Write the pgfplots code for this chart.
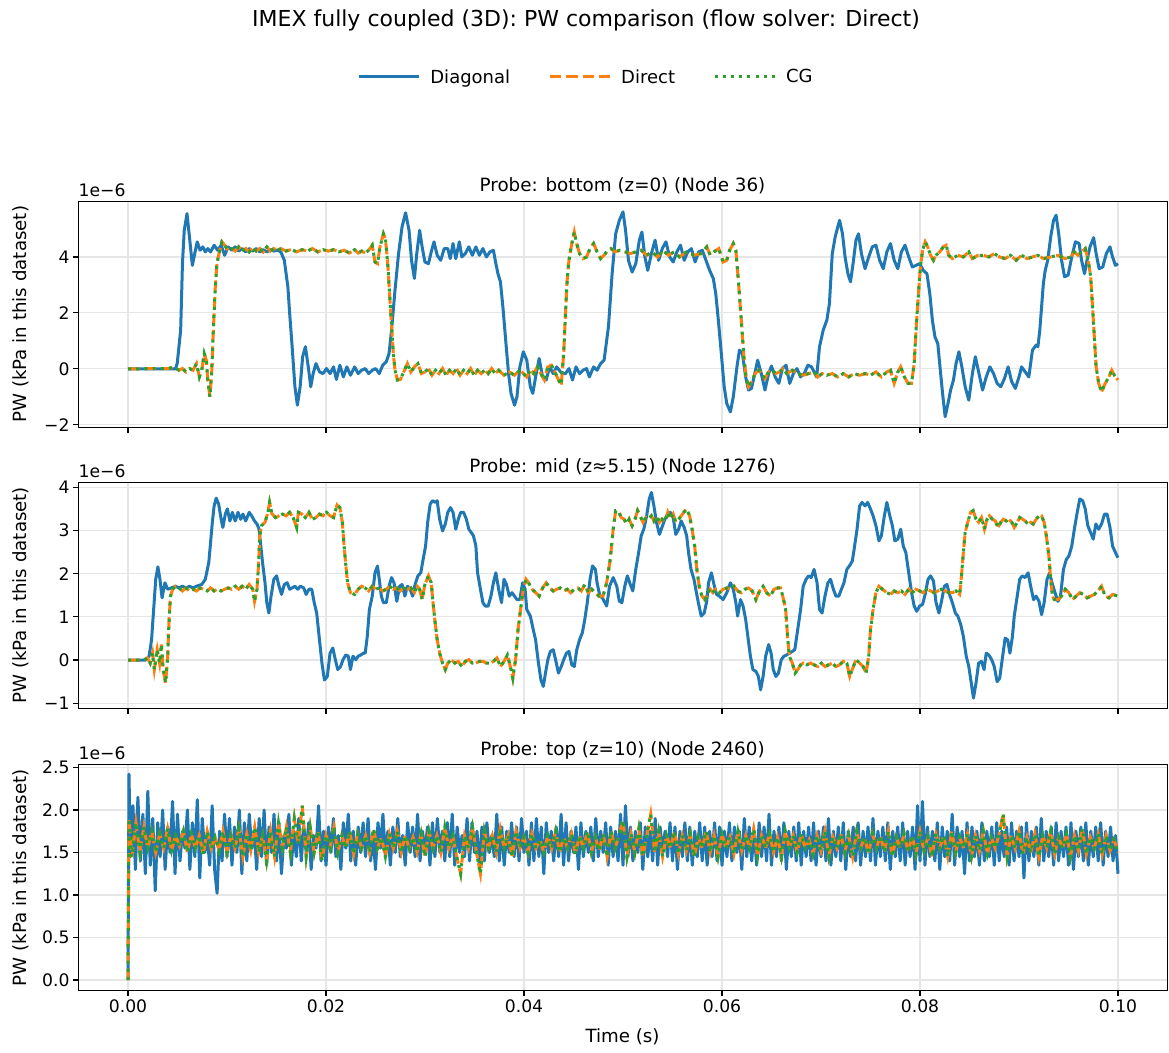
\documentclass[border=0pt]{standalone}
\usepackage{fontspec}
\setmainfont{DejaVu Sans}
\usepackage{pgfplots}
\pgfplotsset{compat=1.18}
\usepackage{pgfplotstable}
\definecolor{mblue}{HTML}{1F77B4}
\definecolor{morange}{HTML}{FF7F0E}
\definecolor{mgreen}{HTML}{2CA02C}
\definecolor{gridc}{HTML}{E6E6E6}

% ---------- Panel 1: bottom (z=0), values in 1e-6 ----------
\pgfplotstableread[row sep=\\]{
t p\\
0 0\\ 0.00479 0\\ 0.00497 0.19\\ 0.00532 1.38\\ 0.00550 3.76\\ 0.00568 4.95\\ 0.00596 5.55\\ 0.00621 4.71\\ 0.00650 3.70\\ 0.00674 4.12\\
0.00699 4.54\\ 0.00728 4.24\\ 0.00756 4.36\\ 0.00781 4.18\\ 0.00806 4.30\\ 0.00834 4.18\\ 0.00870 4.42\\ 0.00905 4.24\\ 0.00941 4.42\\ 0.00976 4.06\\
0.01012 4.36\\ 0.01047 4.24\\ 0.01083 4.36\\ 0.01118 4.21\\ 0.01153 4.30\\ 0.01189 4.18\\ 0.01224 4.30\\ 0.01260 4.21\\ 0.01295 4.30\\ 0.01331 4.18\\
0.01366 4.26\\ 0.01402 4.18\\ 0.01437 4.26\\ 0.01473 4.21\\ 0.01508 4.24\\ 0.01544 4.18\\ 0.01579 3.88\\ 0.01615 2.93\\ 0.01633 1.98\\ 0.01658 0.79\\
0.01686 -0.64\\ 0.01711 -1.30\\ 0.01739 -0.64\\ 0.01764 0.43\\ 0.01792 0.79\\ 0.01821 0.07\\ 0.01846 -0.64\\ 0.01870 -0.17\\ 0.01899 0.19\\ 0.01935 -0.11\\
0.01970 -0.17\\ 0.02005 0.01\\ 0.02041 -0.17\\ 0.02076 0.07\\ 0.02105 -0.38\\ 0.02140 0.13\\ 0.02176 -0.29\\ 0.02211 0.07\\ 0.02247 -0.23\\ 0.02289 0.07\\
0.02325 -0.17\\ 0.02360 -0.05\\ 0.02396 0.01\\ 0.02431 -0.17\\ 0.02467 -0.05\\ 0.02502 0.01\\ 0.02538 -0.17\\ 0.02573 0.13\\ 0.02609 0.25\\ 0.02637 0.55\\
0.02662 1.38\\ 0.02697 2.81\\ 0.02733 4.12\\ 0.02768 5.07\\ 0.02804 5.58\\ 0.02839 4.95\\ 0.02864 3.88\\ 0.02893 3.23\\ 0.02917 4.12\\ 0.02946 4.95\\
0.02971 4.36\\ 0.02999 3.82\\ 0.03035 3.76\\ 0.03063 4.18\\ 0.03091 4.54\\ 0.03123 4.06\\ 0.03159 3.88\\ 0.03194 4.30\\ 0.03230 4.30\\ 0.03255 3.94\\
0.03283 4.48\\ 0.03311 3.94\\ 0.03347 4.54\\ 0.03372 4.00\\ 0.03407 4.12\\ 0.03443 4.36\\ 0.03478 4.06\\ 0.03514 4.36\\ 0.03549 4.06\\ 0.03585 4.30\\
0.03620 4.00\\ 0.03656 4.18\\ 0.03691 4.24\\ 0.03716 3.76\\ 0.03737 3.40\\ 0.03762 3.11\\ 0.03787 2.21\\ 0.03815 1.02\\ 0.03844 -0.17\\ 0.03869 -0.88\\
0.03904 -1.30\\ 0.03929 -1.00\\ 0.03958 0.07\\ 0.03993 0.61\\ 0.04028 0.31\\ 0.04064 -0.64\\ 0.04089 -0.88\\ 0.04117 -0.29\\ 0.04153 0.37\\ 0.04188 -0.29\\
0.04224 -0.40\\ 0.04259 0.07\\ 0.04295 -0.17\\ 0.04330 0.07\\ 0.04383 -0.17\\ 0.04419 -0.17\\ 0.04454 0.01\\ 0.04490 -0.40\\ 0.04525 0.07\\ 0.04561 -0.17\\
0.04596 -0.05\\ 0.04632 0.01\\ 0.04660 -0.29\\ 0.04703 0.07\\ 0.04738 -0.05\\ 0.04774 0.19\\ 0.04809 0.31\\ 0.04853 1.50\\ 0.04890 3.40\\ 0.04926 4.83\\
0.04963 5.31\\ 0.05000 5.61\\ 0.05026 4.95\\ 0.05055 3.88\\ 0.05092 3.46\\ 0.05129 3.76\\ 0.05165 4.60\\ 0.05191 4.89\\ 0.05221 4.00\\ 0.05250 3.52\\
0.05287 4.12\\ 0.05324 4.60\\ 0.05360 3.88\\ 0.05397 4.30\\ 0.05434 4.54\\ 0.05471 4.00\\ 0.05507 3.82\\ 0.05544 4.18\\ 0.05581 4.42\\ 0.05618 3.88\\
0.05654 4.18\\ 0.05691 4.30\\ 0.05728 3.82\\ 0.05765 4.18\\ 0.05801 4.24\\ 0.05838 3.88\\ 0.05875 3.52\\ 0.05912 3.23\\ 0.05937 2.69\\ 0.05963 1.74\\
0.05993 0.55\\ 0.06022 -0.64\\ 0.06048 -1.24\\ 0.06085 -1.54\\ 0.06114 -1.00\\ 0.06151 0.07\\ 0.06176 0.67\\ 0.06206 0.55\\ 0.06239 -0.29\\ 0.06268 -0.76\\
0.06298 -0.70\\ 0.06331 -0.17\\ 0.06360 0.31\\ 0.06397 -0.17\\ 0.06434 -0.76\\ 0.06471 -0.17\\ 0.06500 0.10\\ 0.06537 -0.29\\ 0.06574 -0.52\\ 0.06610 0.01\\
0.06647 0.13\\ 0.06684 -0.52\\ 0.06721 -0.17\\ 0.06757 0.01\\ 0.06794 -0.29\\ 0.06831 -0.17\\ 0.06868 0.13\\ 0.06904 0.07\\ 0.06930 -0.11\\ 0.06956 -0.29\\
0.06985 0.79\\ 0.07022 1.38\\ 0.07059 1.74\\ 0.07085 2.33\\ 0.07114 4.12\\ 0.07143 4.71\\ 0.07169 5.07\\ 0.07188 5.31\\ 0.07217 4.83\\ 0.07243 4.00\\
0.07272 3.40\\ 0.07298 3.11\\ 0.07324 3.76\\ 0.07353 4.60\\ 0.07379 4.83\\ 0.07408 4.12\\ 0.07445 3.58\\ 0.07482 4.00\\ 0.07518 4.36\\ 0.07555 4.42\\
0.07592 3.88\\ 0.07629 3.58\\ 0.07665 4.18\\ 0.07702 4.48\\ 0.07739 3.88\\ 0.07776 3.58\\ 0.07812 4.18\\ 0.07849 4.42\\ 0.07886 4.00\\ 0.07923 3.64\\
0.07960 3.70\\ 0.07996 3.76\\ 0.08033 3.52\\ 0.08070 3.40\\ 0.08099 2.69\\ 0.08125 1.74\\ 0.08151 1.14\\ 0.08180 0.90\\ 0.08202 0.07\\ 0.08228 -0.88\\
0.08254 -1.71\\ 0.08283 -1.24\\ 0.08309 -0.76\\ 0.08338 -0.40\\ 0.08364 0.19\\ 0.08393 0.61\\ 0.08423 0.07\\ 0.08456 -0.64\\ 0.08493 -1.12\\ 0.08529 -0.17\\
0.08559 0.43\\ 0.08596 -0.17\\ 0.08632 -0.76\\ 0.08669 -0.29\\ 0.08706 0.07\\ 0.08743 -0.17\\ 0.08779 -0.52\\ 0.08816 -0.64\\ 0.08853 -0.35\\ 0.08890 0.07\\
0.08926 -0.46\\ 0.08963 -0.70\\ 0.09000 -0.29\\ 0.09026 0.07\\ 0.09063 -0.11\\ 0.09099 -0.29\\ 0.09136 0.67\\ 0.09173 0.85\\ 0.09191 0.79\\ 0.09210 1.38\\
0.09228 2.21\\ 0.09246 3.05\\ 0.09265 3.52\\ 0.09290 3.88\\ 0.09320 4.71\\ 0.09349 5.31\\ 0.09375 5.49\\ 0.09401 4.83\\ 0.09430 3.88\\ 0.09460 3.29\\
0.09496 3.35\\ 0.09533 4.00\\ 0.09570 4.54\\ 0.09607 4.48\\ 0.09632 3.88\\ 0.09662 3.40\\ 0.09687 3.88\\ 0.09717 4.36\\ 0.09754 4.69\\ 0.09779 4.12\\
0.09809 3.58\\ 0.09846 3.64\\ 0.09882 4.12\\ 0.09919 4.36\\ 0.09945 4.00\\ 0.09974 3.70\\ 0.10000 3.76\\
}\botDiag

\pgfplotstableread[row sep=\\]{
t p\\
0 0\\ 0.00408 0.01\\ 0.00461 0.07\\ 0.00515 -0.05\\ 0.00550 0.01\\ 0.00586 -0.11\\ 0.00621 0.01\\ 0.00657 -0.05\\ 0.00692 0.19\\ 0.00721 -0.29\\
0.00745 -0.05\\ 0.00770 0.55\\ 0.00791 0.31\\ 0.00806 -0.40\\ 0.00827 -1.00\\ 0.00845 -0.17\\ 0.00862 1.38\\ 0.00880 2.81\\ 0.00898 3.76\\ 0.00923 4.18\\
0.00948 4.54\\ 0.00976 4.42\\ 0.01012 4.24\\ 0.01047 4.30\\ 0.01083 4.21\\ 0.01118 4.36\\ 0.01153 4.21\\ 0.01189 4.30\\ 0.01224 4.18\\ 0.01260 4.33\\
0.01295 4.21\\ 0.01331 4.30\\ 0.01366 4.18\\ 0.01402 4.36\\ 0.01437 4.21\\ 0.01473 4.30\\ 0.01508 4.24\\ 0.01544 4.30\\ 0.01597 4.21\\ 0.01650 4.27\\
0.01704 4.18\\ 0.01757 4.26\\ 0.01810 4.21\\ 0.01863 4.30\\ 0.01917 4.18\\ 0.01970 4.26\\ 0.02023 4.21\\ 0.02076 4.26\\ 0.02130 4.18\\ 0.02183 4.24\\
0.02236 4.14\\ 0.02289 4.26\\ 0.02325 4.14\\ 0.02360 4.21\\ 0.02396 4.14\\ 0.02431 4.24\\ 0.02467 4.42\\ 0.02495 3.82\\ 0.02520 3.76\\ 0.02545 4.36\\
0.02580 4.83\\ 0.02601 4.65\\ 0.02626 3.64\\ 0.02644 2.57\\ 0.02665 1.38\\ 0.02680 0.55\\ 0.02697 -0.05\\ 0.02722 -0.40\\ 0.02751 -0.38\\ 0.02786 -0.11\\
0.02822 0.19\\ 0.02857 -0.11\\ 0.02893 0.07\\ 0.02928 0.19\\ 0.02964 -0.17\\ 0.02999 -0.11\\ 0.03035 0.01\\ 0.03070 -0.23\\ 0.03106 -0.05\\ 0.03141 -0.17\\
0.03177 0.01\\ 0.03212 -0.23\\ 0.03248 -0.05\\ 0.03283 -0.17\\ 0.03319 0.01\\ 0.03354 -0.23\\ 0.03390 -0.05\\ 0.03425 -0.17\\ 0.03461 0.01\\ 0.03496 -0.23\\
0.03531 -0.05\\ 0.03567 -0.17\\ 0.03603 -0.05\\ 0.03638 -0.17\\ 0.03673 0.01\\ 0.03709 -0.17\\ 0.03744 -0.05\\ 0.03798 -0.23\\ 0.03851 -0.11\\ 0.03904 -0.23\\
0.03958 -0.05\\ 0.03993 -0.17\\ 0.04028 -0.29\\ 0.04064 -0.05\\ 0.04099 -0.17\\ 0.04135 0.07\\ 0.04170 -0.17\\ 0.04206 -0.40\\ 0.04241 0.07\\ 0.04277 0.13\\
0.04312 -0.11\\ 0.04348 -0.40\\ 0.04376 -0.58\\ 0.04401 0.55\\ 0.04419 1.98\\ 0.04436 3.17\\ 0.04454 3.88\\ 0.04483 4.48\\ 0.04508 4.89\\ 0.04532 4.48\\
0.04561 4.12\\ 0.04596 3.94\\ 0.04632 4.00\\ 0.04667 4.30\\ 0.04703 4.48\\ 0.04738 4.18\\ 0.04774 3.94\\ 0.04809 4.06\\ 0.04845 4.24\\ 0.04880 4.30\\
0.04916 4.18\\ 0.04969 4.24\\ 0.05074 4.12\\ 0.05129 4.18\\ 0.05184 4.24\\ 0.05239 4.06\\ 0.05294 4.18\\ 0.05349 4.00\\ 0.05404 4.24\\ 0.05460 4.06\\
0.05515 4.18\\ 0.05570 4.00\\ 0.05643 4.18\\ 0.05717 4.06\\ 0.05790 4.12\\ 0.05846 4.36\\ 0.05882 4.06\\ 0.05919 4.18\\ 0.05967 4.30\\ 0.06011 3.82\\
0.06048 3.88\\ 0.06077 4.24\\ 0.06114 4.48\\ 0.06140 4.24\\ 0.06165 3.17\\ 0.06195 1.74\\ 0.06221 0.43\\ 0.06243 -0.29\\ 0.06268 -0.64\\ 0.06298 -0.46\\
0.06335 -0.17\\ 0.06371 -0.05\\ 0.06397 -0.17\\ 0.06434 -0.35\\ 0.06471 -0.11\\ 0.06507 -0.05\\ 0.06544 -0.17\\ 0.06581 -0.11\\ 0.06618 0.01\\ 0.06654 -0.17\\
0.06710 -0.05\\ 0.06765 -0.17\\ 0.06820 -0.23\\ 0.06875 -0.17\\ 0.06930 -0.11\\ 0.06967 -0.29\\ 0.07011 -0.17\\ 0.07059 -0.23\\ 0.07114 -0.17\\ 0.07169 -0.29\\
0.07224 -0.17\\ 0.07279 -0.29\\ 0.07335 -0.17\\ 0.07390 -0.23\\ 0.07445 -0.17\\ 0.07500 -0.23\\ 0.07555 -0.11\\ 0.07610 -0.29\\ 0.07665 -0.11\\ 0.07702 -0.05\\
0.07739 -0.52\\ 0.07776 -0.11\\ 0.07805 0.07\\ 0.07842 -0.29\\ 0.07879 -0.52\\ 0.07915 -0.52\\ 0.07941 0.19\\ 0.07960 1.38\\ 0.07982 2.57\\ 0.08004 3.64\\
0.08026 4.24\\ 0.08052 4.54\\ 0.08077 4.36\\ 0.08107 4.06\\ 0.08136 3.88\\ 0.08162 4.06\\ 0.08199 4.18\\ 0.08235 4.36\\ 0.08265 4.42\\ 0.08290 4.06\\
0.08327 3.94\\ 0.08382 4.06\\ 0.08438 4.00\\ 0.08493 4.18\\ 0.08529 3.94\\ 0.08585 4.06\\ 0.08640 4.06\\ 0.08695 4.00\\ 0.08750 4.12\\ 0.08805 4.00\\
0.08860 3.94\\ 0.08915 4.06\\ 0.08971 3.88\\ 0.09026 4.06\\ 0.09081 3.94\\ 0.09136 4.00\\ 0.09191 4.06\\ 0.09246 3.94\\ 0.09320 4.00\\ 0.09393 4.06\\
0.09467 3.94\\ 0.09522 4.00\\ 0.09559 4.18\\ 0.09596 4.06\\ 0.09632 4.18\\ 0.09669 4.30\\ 0.09699 3.88\\ 0.09724 3.29\\ 0.09743 2.21\\ 0.09761 1.14\\
0.09779 0.07\\ 0.09805 -0.52\\ 0.09834 -0.82\\ 0.09871 -0.52\\ 0.09908 -0.29\\ 0.09937 -0.05\\ 0.09963 -0.23\\ 0.10000 -0.40\\
}\botDir

% ---------- Panel 2: mid ----------
\pgfplotstableread[row sep=\\]{
t p\\
0 0\\ 0.00178 0\\ 0.00213 0.09\\ 0.00238 0.47\\ 0.00259 1.17\\ 0.00280 1.87\\ 0.00302 2.16\\ 0.00323 1.87\\ 0.00344 1.44\\ 0.00373 1.79\\
0.00401 1.64\\ 0.00437 1.67\\ 0.00479 1.71\\ 0.00515 1.67\\ 0.00550 1.71\\ 0.00586 1.67\\ 0.00621 1.71\\ 0.00657 1.67\\ 0.00692 1.71\\ 0.00745 1.75\\
0.00781 1.87\\ 0.00816 2.26\\ 0.00834 2.72\\ 0.00852 3.19\\ 0.00870 3.57\\ 0.00891 3.75\\ 0.00916 3.61\\ 0.00941 3.26\\ 0.00958 3.07\\ 0.00983 3.38\\
0.01004 3.50\\ 0.01029 3.22\\ 0.01054 3.42\\ 0.01083 3.22\\ 0.01111 3.42\\ 0.01139 3.26\\ 0.01161 3.38\\ 0.01189 3.22\\ 0.01224 3.42\\ 0.01249 3.34\\
0.01278 3.22\\ 0.01303 3.15\\ 0.01324 3.03\\ 0.01338 2.72\\ 0.01359 2.26\\ 0.01384 1.79\\ 0.01402 1.33\\ 0.01423 1.09\\ 0.01445 1.48\\ 0.01473 1.87\\
0.01501 1.95\\ 0.01526 1.71\\ 0.01551 1.52\\ 0.01579 1.75\\ 0.01608 1.79\\ 0.01633 1.64\\ 0.01658 1.67\\ 0.01686 1.71\\ 0.01714 1.64\\ 0.01743 1.71\\
0.01775 1.67\\ 0.01799 1.52\\ 0.01828 1.64\\ 0.01856 1.64\\ 0.01881 1.33\\ 0.01906 1.09\\ 0.01934 0.47\\ 0.01959 -0.07\\ 0.01984 -0.46\\ 0.02013 -0.38\\
0.02041 0.16\\ 0.02069 0.28\\ 0.02094 0.01\\ 0.02119 -0.22\\ 0.02147 -0.15\\ 0.02172 0.01\\ 0.02201 0.12\\ 0.02225 0.09\\ 0.02247 -0.22\\ 0.02272 0.09\\
0.02301 0.01\\ 0.02325 0.09\\ 0.02353 0.12\\ 0.02378 0.16\\ 0.02396 0.16\\ 0.02417 0.55\\ 0.02438 1.17\\ 0.02467 1.48\\ 0.02495 2.02\\ 0.02520 2.18\\
0.02538 1.87\\ 0.02559 1.48\\ 0.02580 1.33\\ 0.02609 1.33\\ 0.02637 1.71\\ 0.02662 1.91\\ 0.02687 1.79\\ 0.02715 1.36\\ 0.02744 1.71\\ 0.02768 1.75\\
0.02797 1.48\\ 0.02822 1.71\\ 0.02850 1.64\\ 0.02875 1.48\\ 0.02900 1.75\\ 0.02928 1.95\\ 0.02957 2.02\\ 0.02981 2.33\\ 0.03006 2.64\\ 0.03027 3.19\\
0.03052 3.61\\ 0.03077 3.69\\ 0.03106 3.65\\ 0.03123 3.69\\ 0.03148 3.26\\ 0.03177 2.99\\ 0.03205 3.15\\ 0.03230 3.42\\ 0.03258 3.53\\ 0.03283 3.42\\
0.03311 3.03\\ 0.03336 3.26\\ 0.03361 3.42\\ 0.03390 3.42\\ 0.03418 3.26\\ 0.03443 3.03\\ 0.03468 2.95\\ 0.03489 2.88\\ 0.03514 2.64\\ 0.03531 2.02\\
0.03560 1.64\\ 0.03585 1.33\\ 0.03609 1.25\\ 0.03638 1.25\\ 0.03666 1.48\\ 0.03691 1.79\\ 0.03716 2.02\\ 0.03744 1.64\\ 0.03773 1.33\\ 0.03798 1.87\\
0.03823 1.75\\ 0.03851 1.48\\ 0.03879 1.56\\ 0.03904 1.48\\ 0.03929 1.40\\ 0.03958 1.40\\ 0.03986 1.79\\ 0.04011 1.64\\ 0.04028 1.17\\ 0.04064 1.02\\
0.04093 0.71\\ 0.04117 0.47\\ 0.04146 -0.07\\ 0.04171 -0.46\\ 0.04195 -0.61\\ 0.04217 -0.30\\ 0.04241 0.01\\ 0.04266 0.20\\ 0.04295 0.24\\ 0.04319 0.01\\
0.04348 -0.30\\ 0.04376 -0.15\\ 0.04401 0.01\\ 0.04429 0.16\\ 0.04454 0.20\\ 0.04483 -0.11\\ 0.04508 -0.15\\ 0.04533 0.24\\ 0.04561 0.47\\ 0.04589 0.63\\
0.04614 0.94\\ 0.04639 1.33\\ 0.04667 1.87\\ 0.04692 2.18\\ 0.04721 2.10\\ 0.04738 1.79\\ 0.04767 1.48\\ 0.04792 1.44\\ 0.04835 1.25\\ 0.04864 1.71\\
0.04901 1.91\\ 0.04937 1.71\\ 0.04963 1.36\\ 0.04989 1.33\\ 0.05018 1.71\\ 0.05044 1.95\\ 0.05074 1.75\\ 0.05099 1.60\\ 0.05129 2.10\\ 0.05158 2.49\\
0.05184 2.88\\ 0.05210 3.03\\ 0.05239 3.34\\ 0.05265 3.73\\ 0.05287 3.88\\ 0.05312 3.57\\ 0.05338 3.19\\ 0.05368 2.91\\ 0.05393 3.07\\ 0.05423 3.26\\
0.05452 3.38\\ 0.05478 3.42\\ 0.05507 3.30\\ 0.05533 2.91\\ 0.05562 3.03\\ 0.05588 3.22\\ 0.05618 3.07\\ 0.05643 2.88\\ 0.05662 2.49\\ 0.05687 2.10\\
0.05717 1.87\\ 0.05735 1.64\\ 0.05761 1.33\\ 0.05790 1.02\\ 0.05820 1.09\\ 0.05846 1.36\\ 0.05864 1.79\\ 0.05893 2.02\\ 0.05919 1.75\\ 0.05945 1.52\\
0.05974 1.48\\ 0.06011 1.40\\ 0.06048 1.56\\ 0.06085 1.79\\ 0.06114 1.64\\ 0.06140 1.33\\ 0.06158 1.02\\ 0.06187 1.40\\ 0.06213 1.25\\ 0.06239 0.94\\
0.06261 0.55\\ 0.06287 0.09\\ 0.06312 -0.22\\ 0.06342 -0.26\\ 0.06368 -0.38\\ 0.06390 -0.69\\ 0.06415 -0.38\\ 0.06441 0.09\\ 0.06471 0.36\\ 0.06496 0.16\\
0.06518 -0.22\\ 0.06544 -0.38\\ 0.06570 -0.30\\ 0.06599 0.01\\ 0.06625 0.09\\ 0.06654 0.12\\ 0.06680 0.16\\ 0.06710 0.20\\ 0.06735 0.24\\ 0.06765 0.71\\
0.06794 1.17\\ 0.06820 1.71\\ 0.06849 1.87\\ 0.06875 1.95\\ 0.06901 1.91\\ 0.06930 2.10\\ 0.06960 1.79\\ 0.06985 1.17\\ 0.07011 1.09\\ 0.07040 1.48\\
0.07070 1.79\\ 0.07096 1.87\\ 0.07125 1.64\\ 0.07151 1.48\\ 0.07180 1.48\\ 0.07206 1.64\\ 0.07232 1.79\\ 0.07261 2.10\\ 0.07287 2.18\\ 0.07316 2.29\\
0.07335 2.57\\ 0.07364 3.03\\ 0.07390 3.57\\ 0.07415 3.65\\ 0.07445 3.57\\ 0.07471 3.65\\ 0.07500 3.50\\ 0.07526 3.34\\ 0.07555 3.11\\ 0.07585 2.76\\
0.07610 2.88\\ 0.07640 3.34\\ 0.07665 3.65\\ 0.07695 3.34\\ 0.07721 3.11\\ 0.07746 2.76\\ 0.07776 2.80\\ 0.07805 3.03\\ 0.07831 2.64\\ 0.07857 2.49\\
0.07886 2.02\\ 0.07915 1.56\\ 0.07941 1.25\\ 0.07967 1.13\\ 0.07996 1.25\\ 0.08026 1.29\\ 0.08052 1.52\\ 0.08081 1.87\\ 0.08107 1.95\\ 0.08136 1.83\\
0.08162 1.33\\ 0.08191 1.09\\ 0.08217 1.36\\ 0.08246 1.71\\ 0.08272 1.75\\ 0.08298 1.52\\ 0.08327 1.33\\ 0.08357 1.09\\ 0.08382 1.02\\ 0.08412 0.82\\
0.08438 0.55\\ 0.08467 0.09\\ 0.08493 -0.15\\ 0.08518 -0.53\\ 0.08540 -0.88\\ 0.08566 -0.53\\ 0.08592 -0.07\\ 0.08621 -0.03\\ 0.08647 -0.22\\ 0.08669 0.16\\
0.08695 0.12\\ 0.08724 0.01\\ 0.08750 -0.15\\ 0.08779 -0.50\\ 0.08805 -0.42\\ 0.08835 0.09\\ 0.08860 0.51\\ 0.08886 0.47\\ 0.08908 0.16\\ 0.08934 0.55\\
0.08952 1.02\\ 0.08982 1.48\\ 0.09007 1.87\\ 0.09033 1.95\\ 0.09062 1.91\\ 0.09092 2.02\\ 0.09118 1.71\\ 0.09147 1.40\\ 0.09173 1.48\\ 0.09202 1.36\\
0.09228 1.05\\ 0.09254 1.33\\ 0.09283 1.87\\ 0.09309 2.02\\ 0.09338 1.75\\ 0.09364 1.56\\ 0.09393 1.36\\ 0.09419 1.48\\ 0.09449 2.10\\ 0.09478 2.33\\
0.09504 2.41\\ 0.09533 2.64\\ 0.09559 3.03\\ 0.09588 3.42\\ 0.09614 3.73\\ 0.09643 3.69\\ 0.09669 3.50\\ 0.09695 3.11\\ 0.09724 2.95\\ 0.09750 2.80\\
0.09776 3.15\\ 0.09805 3.03\\ 0.09834 3.15\\ 0.09864 3.38\\ 0.09890 3.38\\ 0.09919 3.07\\ 0.09945 2.64\\ 0.09974 2.49\\ 0.10000 2.37\\
}\midDiag

\pgfplotstableread[row sep=\\]{
t p\\
0 0\\ 0.00160 0\\ 0.00195 0.05\\ 0.00224 -0.07\\ 0.00248 0.16\\ 0.00266 -0.22\\ 0.00295 0.24\\ 0.00319 -0.07\\ 0.00337 0.36\\ 0.00355 -0.22\\
0.00380 -0.53\\ 0.00401 0.09\\ 0.00415 0.94\\ 0.00429 1.48\\ 0.00451 1.64\\ 0.00479 1.71\\ 0.00515 1.67\\ 0.00550 1.60\\ 0.00586 1.67\\ 0.00621 1.60\\
0.00657 1.64\\ 0.00692 1.60\\ 0.00728 1.67\\ 0.00763 1.64\\ 0.00799 1.60\\ 0.00834 1.67\\ 0.00870 1.60\\ 0.00905 1.64\\ 0.00941 1.60\\ 0.00976 1.64\\
0.01012 1.67\\ 0.01047 1.64\\ 0.01083 1.71\\ 0.01118 1.64\\ 0.01153 1.71\\ 0.01189 1.64\\ 0.01224 1.75\\ 0.01260 1.64\\ 0.01278 1.36\\ 0.01303 1.64\\
0.01320 2.26\\ 0.01331 2.88\\ 0.01349 3.11\\ 0.01384 3.19\\ 0.01413 3.42\\ 0.01430 3.65\\ 0.01455 3.38\\ 0.01491 3.30\\ 0.01526 3.34\\ 0.01562 3.38\\
0.01597 3.34\\ 0.01633 3.42\\ 0.01668 3.30\\ 0.01704 3.07\\ 0.01721 3.42\\ 0.01757 3.38\\ 0.01792 3.30\\ 0.01828 3.42\\ 0.01863 3.26\\ 0.01899 3.30\\
0.01934 3.38\\ 0.01970 3.34\\ 0.02005 3.42\\ 0.02041 3.34\\ 0.02076 3.30\\ 0.02112 3.59\\ 0.02140 3.53\\ 0.02165 3.19\\ 0.02183 2.64\\ 0.02201 2.18\\
0.02218 1.79\\ 0.02247 1.56\\ 0.02289 1.52\\ 0.02325 1.64\\ 0.02360 1.71\\ 0.02396 1.67\\ 0.02431 1.60\\ 0.02467 1.71\\ 0.02502 1.64\\ 0.02538 1.67\\
0.02573 1.60\\ 0.02609 1.64\\ 0.02644 1.71\\ 0.02680 1.64\\ 0.02715 1.67\\ 0.02751 1.60\\ 0.02786 1.67\\ 0.02822 1.64\\ 0.02857 1.67\\ 0.02893 1.56\\
0.02921 1.71\\ 0.02946 1.64\\ 0.02971 1.40\\ 0.02999 1.75\\ 0.03035 1.95\\ 0.03063 1.79\\ 0.03081 1.33\\ 0.03099 0.94\\ 0.03123 0.47\\ 0.03148 0.16\\
0.03177 -0.07\\ 0.03205 -0.22\\ 0.03230 -0.07\\ 0.03265 0.01\\ 0.03301 -0.07\\ 0.03336 -0.03\\ 0.03372 -0.15\\ 0.03407 -0.03\\ 0.03443 0.01\\ 0.03478 -0.07\\
0.03514 -0.07\\ 0.03549 -0.03\\ 0.03585 -0.03\\ 0.03620 -0.07\\ 0.03656 -0.07\\ 0.03691 -0.03\\ 0.03727 0.05\\ 0.03762 -0.15\\ 0.03798 -0.03\\ 0.03833 0.12\\
0.03869 -0.22\\ 0.03887 -0.42\\ 0.03915 0.01\\ 0.03940 0.71\\ 0.03965 1.17\\ 0.03993 1.64\\ 0.04021 1.87\\ 0.04046 1.79\\ 0.04082 1.64\\ 0.04117 1.56\\
0.04153 1.48\\ 0.04188 1.67\\ 0.04224 1.79\\ 0.04259 1.67\\ 0.04295 1.60\\ 0.04330 1.64\\ 0.04366 1.67\\ 0.04401 1.60\\ 0.04437 1.64\\ 0.04472 1.56\\
0.04508 1.64\\ 0.04543 1.67\\ 0.04579 1.60\\ 0.04614 1.75\\ 0.04650 1.56\\ 0.04685 1.64\\ 0.04721 1.56\\ 0.04756 1.48\\ 0.04798 1.48\\ 0.04835 1.79\\
0.04871 2.33\\ 0.04901 3.03\\ 0.04926 3.46\\ 0.04952 3.46\\ 0.04982 3.30\\ 0.05011 3.26\\ 0.05037 3.15\\ 0.05062 3.26\\ 0.05092 3.11\\ 0.05121 3.26\\
0.05147 3.46\\ 0.05173 3.34\\ 0.05202 3.19\\ 0.05232 3.30\\ 0.05257 3.26\\ 0.05287 3.34\\ 0.05312 3.22\\ 0.05342 3.34\\ 0.05368 3.19\\ 0.05393 3.26\\
0.05423 3.19\\ 0.05452 3.42\\ 0.05478 3.26\\ 0.05507 3.38\\ 0.05533 3.19\\ 0.05562 3.26\\ 0.05588 3.34\\ 0.05614 3.42\\ 0.05643 3.50\\ 0.05673 3.34\\
0.05698 3.03\\ 0.05724 2.64\\ 0.05746 2.10\\ 0.05772 1.67\\ 0.05798 1.48\\ 0.05827 1.40\\ 0.05857 1.56\\ 0.05882 1.64\\ 0.05908 1.56\\ 0.05937 1.64\\
0.05974 1.56\\ 0.06011 1.64\\ 0.06048 1.67\\ 0.06085 1.64\\ 0.06121 1.71\\ 0.06158 1.60\\ 0.06195 1.56\\ 0.06232 1.64\\ 0.06268 1.67\\ 0.06305 1.60\\
0.06342 1.40\\ 0.06379 1.60\\ 0.06415 1.71\\ 0.06452 1.56\\ 0.06489 1.48\\ 0.06526 1.64\\ 0.06562 1.67\\ 0.06592 1.67\\ 0.06618 1.44\\ 0.06643 1.17\\
0.06662 0.55\\ 0.06680 0.09\\ 0.06710 -0.07\\ 0.06739 -0.30\\ 0.06765 -0.22\\ 0.06794 -0.11\\ 0.06820 -0.07\\ 0.06857 -0.11\\ 0.06893 -0.07\\ 0.06930 -0.11\\
0.06967 -0.15\\ 0.07004 -0.07\\ 0.07040 -0.15\\ 0.07077 -0.11\\ 0.07114 -0.07\\ 0.07151 -0.15\\ 0.07187 -0.11\\ 0.07224 -0.03\\ 0.07261 -0.07\\ 0.07290 -0.38\\
0.07316 -0.22\\ 0.07353 0.01\\ 0.07390 -0.07\\ 0.07426 -0.15\\ 0.07456 -0.30\\ 0.07482 0.09\\ 0.07500 0.71\\ 0.07526 1.17\\ 0.07555 1.56\\ 0.07585 1.71\\
0.07621 1.64\\ 0.07665 1.56\\ 0.07702 1.52\\ 0.07739 1.60\\ 0.07776 1.56\\ 0.07812 1.60\\ 0.07849 1.52\\ 0.07886 1.64\\ 0.07923 1.56\\ 0.07960 1.64\\
0.07996 1.60\\ 0.08033 1.56\\ 0.08070 1.64\\ 0.08107 1.60\\ 0.08143 1.56\\ 0.08180 1.60\\ 0.08217 1.64\\ 0.08254 1.60\\ 0.08290 1.56\\ 0.08327 1.56\\
0.08364 1.60\\ 0.08401 1.52\\ 0.08419 1.95\\ 0.08438 2.49\\ 0.08456 2.95\\ 0.08482 3.19\\ 0.08511 3.42\\ 0.08537 3.46\\ 0.08566 3.26\\ 0.08592 3.19\\
0.08621 3.30\\ 0.08651 3.03\\ 0.08677 3.26\\ 0.08702 3.34\\ 0.08732 3.26\\ 0.08761 3.22\\ 0.08787 3.07\\ 0.08816 3.19\\ 0.08842 3.26\\ 0.08871 3.22\\
0.08897 3.26\\ 0.08927 3.19\\ 0.08952 3.07\\ 0.08982 3.19\\ 0.09007 3.30\\ 0.09037 3.26\\ 0.09062 3.22\\ 0.09092 3.15\\ 0.09118 3.19\\ 0.09143 3.15\\
0.09173 3.26\\ 0.09202 3.34\\ 0.09228 3.34\\ 0.09254 3.19\\ 0.09276 2.88\\ 0.09302 2.41\\ 0.09320 1.87\\ 0.09338 1.48\\ 0.09357 1.40\\ 0.09393 1.40\\
0.09430 1.48\\ 0.09467 1.64\\ 0.09504 1.56\\ 0.09540 1.40\\ 0.09577 1.48\\ 0.09614 1.56\\ 0.09651 1.52\\ 0.09687 1.44\\ 0.09724 1.48\\ 0.09761 1.52\\
0.09798 1.60\\ 0.09834 1.71\\ 0.09871 1.48\\ 0.09908 1.44\\ 0.09945 1.52\\ 0.10000 1.48\\
}\midDir

% ---------- Panel 3: top ----------
\pgfplotstableread[row sep=\\]{
t p\\
0 0\\ 0.0001 2.42\\ 0.00025 1.45\\ 0.0005 2.05\\ 0.00075 1.30\\
0.001 2.15\\ 0.00125 1.40\\ 0.0015 1.95\\ 0.00175 1.25\\ 0.002 2.22\\ 0.00225 1.35\\ 0.0025 1.90\\ 0.00275 1.05\\
0.003 1.85\\ 0.00325 1.45\\ 0.0035 2.00\\ 0.00375 1.30\\ 0.004 1.80\\ 0.00425 1.50\\ 0.0045 2.10\\ 0.00475 1.25\\
0.005 1.95\\ 0.00525 1.40\\ 0.0055 1.75\\ 0.00575 1.55\\ 0.006 2.00\\ 0.00625 1.30\\ 0.0065 1.85\\ 0.00675 1.45\\
0.007 2.12\\ 0.00725 1.20\\ 0.0075 1.90\\ 0.00775 1.50\\ 0.008 1.70\\ 0.00825 1.35\\ 0.0085 2.05\\ 0.00875 1.30\\
0.009 1.02\\ 0.00925 1.75\\ 0.0095 1.40\\ 0.00975 1.95\\ 0.010 1.45\\ 0.01025 1.90\\ 0.0105 1.35\\ 0.01075 1.80\\
0.011 1.50\\ 0.01125 2.00\\ 0.0115 1.25\\ 0.01175 1.85\\ 0.012 1.40\\ 0.01225 1.95\\ 0.0125 1.55\\ 0.01275 1.75\\
0.013 1.30\\ 0.01325 1.90\\ 0.0135 1.45\\ 0.01375 2.00\\ 0.014 1.35\\ 0.01425 1.80\\ 0.0145 1.50\\ 0.01475 1.95\\
0.015 1.40\\ 0.01525 1.85\\ 0.0155 1.25\\ 0.01575 1.70\\ 0.016 1.55\\ 0.01625 1.95\\ 0.0165 1.35\\ 0.01675 1.75\\
0.017 1.45\\ 0.01725 1.90\\ 0.0175 1.40\\ 0.01775 1.80\\ 0.018 1.50\\ 0.01825 1.85\\ 0.0185 1.30\\ 0.01875 1.70\\
0.019 1.55\\ 0.01925 2.05\\ 0.0195 1.40\\ 0.01975 1.75\\ 0.020 1.35\\ 0.02025 1.80\\ 0.0205 1.50\\ 0.02075 1.90\\
0.021 1.45\\ 0.02125 1.70\\ 0.0215 1.30\\ 0.02175 1.85\\ 0.022 1.55\\ 0.02225 1.95\\ 0.0225 1.40\\ 0.02275 1.75\\
0.023 1.35\\ 0.02325 1.80\\ 0.0235 1.50\\ 0.02375 1.85\\ 0.024 1.45\\ 0.02425 1.90\\ 0.0245 1.40\\ 0.02475 1.70\\
0.025 1.30\\ 0.02525 1.85\\ 0.0255 1.55\\ 0.02575 1.95\\ 0.026 1.45\\ 0.02625 1.75\\ 0.0265 1.35\\ 0.02675 1.80\\
0.027 1.50\\ 0.02725 1.90\\ 0.0275 1.45\\ 0.02775 1.70\\ 0.028 1.35\\ 0.02825 1.85\\ 0.0285 1.50\\ 0.02875 1.80\\
0.029 1.45\\ 0.02925 1.95\\ 0.0295 1.40\\ 0.02975 1.75\\ 0.030 1.50\\ 0.03025 1.80\\ 0.0305 1.35\\ 0.03075 1.85\\
0.031 1.45\\ 0.03125 1.90\\ 0.0315 1.50\\ 0.03175 1.75\\ 0.032 1.40\\ 0.03225 1.85\\ 0.0325 1.45\\ 0.03275 1.95\\
0.033 1.35\\ 0.03325 1.80\\ 0.0335 1.50\\ 0.03375 1.70\\ 0.034 1.45\\ 0.03425 1.90\\ 0.0345 1.40\\ 0.03475 1.85\\
0.035 1.50\\ 0.03525 1.75\\ 0.0355 1.35\\ 0.03575 1.80\\ 0.036 1.40\\ 0.03625 1.85\\ 0.0365 1.50\\ 0.03675 1.70\\
0.037 1.45\\ 0.03725 1.95\\ 0.0375 1.40\\ 0.03775 1.80\\ 0.038 1.35\\ 0.03825 1.75\\ 0.0385 1.50\\ 0.03875 1.85\\
0.039 1.45\\ 0.03925 1.80\\ 0.0395 1.40\\ 0.03975 1.90\\ 0.040 1.50\\ 0.04025 1.75\\ 0.0405 1.35\\ 0.04075 1.85\\
0.041 1.40\\ 0.04125 1.90\\ 0.0415 1.45\\ 0.04175 1.80\\ 0.042 1.25\\ 0.04225 1.85\\ 0.0425 1.50\\ 0.04275 1.75\\
0.043 1.40\\ 0.04325 1.80\\ 0.0435 1.45\\ 0.04375 1.95\\ 0.044 1.35\\ 0.04425 1.85\\ 0.0445 1.40\\ 0.04475 1.75\\
0.045 1.50\\ 0.04525 1.80\\ 0.0455 1.30\\ 0.04575 1.85\\ 0.046 1.45\\ 0.04625 1.75\\ 0.0465 1.50\\ 0.04675 1.80\\
0.047 1.40\\ 0.04725 1.90\\ 0.0475 1.45\\ 0.04775 1.75\\ 0.048 1.50\\ 0.04825 1.85\\ 0.0485 1.35\\ 0.04875 1.80\\
0.049 1.45\\ 0.04925 1.75\\ 0.0495 1.40\\ 0.04975 1.95\\ 0.050 1.35\\ 0.05025 2.05\\ 0.0505 1.45\\ 0.05075 1.80\\
0.051 1.40\\ 0.05125 1.75\\ 0.0515 1.50\\ 0.05175 1.85\\ 0.052 1.30\\ 0.05225 1.80\\ 0.0525 1.45\\ 0.05275 1.75\\
0.053 1.40\\ 0.05325 1.90\\ 0.0535 1.35\\ 0.05375 1.80\\ 0.054 1.50\\ 0.05425 1.75\\ 0.0545 1.45\\ 0.05475 1.85\\
0.055 1.40\\ 0.05525 1.80\\ 0.0555 1.30\\ 0.05575 1.75\\ 0.056 1.45\\ 0.05625 1.85\\ 0.0565 1.40\\ 0.05675 1.80\\
0.057 1.35\\ 0.05725 1.75\\ 0.0575 1.45\\ 0.05775 1.85\\ 0.058 1.40\\ 0.05825 1.80\\ 0.0585 1.35\\ 0.05875 1.75\\
0.059 1.45\\ 0.05925 1.85\\ 0.0595 1.40\\ 0.05975 1.80\\ 0.060 1.35\\ 0.06025 1.75\\ 0.0605 1.45\\ 0.06075 1.85\\
0.061 1.40\\ 0.06125 1.80\\ 0.0615 1.50\\ 0.06175 1.75\\ 0.062 1.30\\ 0.06225 1.90\\ 0.0625 1.45\\ 0.06275 1.80\\
0.063 1.40\\ 0.06325 1.75\\ 0.0635 1.35\\ 0.06375 1.85\\ 0.064 1.45\\ 0.06425 1.80\\ 0.0645 1.40\\ 0.06475 1.95\\
0.065 1.35\\ 0.06525 1.75\\ 0.0655 1.45\\ 0.06575 1.80\\ 0.066 1.40\\ 0.06625 1.85\\ 0.0665 1.30\\ 0.06675 1.75\\
0.067 1.45\\ 0.06725 1.80\\ 0.0675 1.40\\ 0.06775 1.85\\ 0.068 1.35\\ 0.06825 1.75\\ 0.0685 1.45\\ 0.06875 1.80\\
0.069 1.40\\ 0.06925 1.85\\ 0.0695 1.35\\ 0.06975 1.75\\ 0.070 1.45\\ 0.07025 1.80\\ 0.0705 1.40\\ 0.07075 1.90\\
0.071 1.35\\ 0.07125 1.75\\ 0.0715 1.45\\ 0.07175 1.80\\ 0.072 1.40\\ 0.07225 1.85\\ 0.0725 1.30\\ 0.07275 1.75\\
0.073 1.45\\ 0.07325 1.80\\ 0.0735 1.40\\ 0.07375 1.85\\ 0.074 1.35\\ 0.07425 1.75\\ 0.0745 1.45\\ 0.07475 1.80\\
0.075 1.40\\ 0.07525 1.90\\ 0.0755 1.35\\ 0.07575 1.75\\ 0.076 1.45\\ 0.07625 1.80\\ 0.0765 1.40\\ 0.07675 1.85\\
0.077 1.30\\ 0.07725 1.75\\ 0.0775 1.45\\ 0.07775 1.80\\ 0.078 1.40\\ 0.07825 1.85\\ 0.0785 1.35\\ 0.07875 1.75\\
0.079 1.45\\ 0.07925 1.80\\ 0.0795 1.30\\ 0.07975 2.05\\ 0.080 1.40\\ 0.08025 2.10\\ 0.0805 1.35\\ 0.08075 1.80\\
0.081 1.45\\ 0.08125 1.75\\ 0.0815 1.40\\ 0.08175 1.85\\ 0.082 1.30\\ 0.08225 1.80\\ 0.0825 1.45\\ 0.08275 1.75\\
0.083 1.40\\ 0.08325 1.95\\ 0.0835 1.35\\ 0.08375 1.80\\ 0.084 1.45\\ 0.08425 1.75\\ 0.0845 1.25\\ 0.08475 1.85\\
0.085 1.40\\ 0.08525 1.80\\ 0.0855 1.45\\ 0.08575 1.75\\ 0.086 1.35\\ 0.08625 1.85\\ 0.0865 1.40\\ 0.08675 1.75\\
0.087 1.45\\ 0.08725 1.80\\ 0.0875 1.35\\ 0.08775 1.85\\ 0.088 1.40\\ 0.08825 1.75\\ 0.0885 1.45\\ 0.08875 1.80\\
0.089 1.35\\ 0.08925 1.85\\ 0.0895 1.40\\ 0.08975 1.75\\ 0.090 1.45\\ 0.09025 1.80\\ 0.0905 1.20\\ 0.09075 1.85\\
0.091 1.40\\ 0.09125 1.75\\ 0.0915 1.45\\ 0.09175 1.80\\ 0.092 1.35\\ 0.09225 1.90\\ 0.0925 1.40\\ 0.09275 1.75\\
0.093 1.45\\ 0.09325 1.80\\ 0.0935 1.35\\ 0.09375 1.85\\ 0.094 1.40\\ 0.09425 1.75\\ 0.0945 1.45\\ 0.09475 1.80\\
0.095 1.35\\ 0.09525 1.85\\ 0.0955 1.30\\ 0.09575 1.75\\ 0.096 1.45\\ 0.09625 1.80\\ 0.0965 1.40\\ 0.09675 1.85\\
0.097 1.35\\ 0.09725 1.75\\ 0.0975 1.45\\ 0.09775 1.80\\ 0.098 1.40\\ 0.09825 1.85\\ 0.0985 1.35\\ 0.09875 1.75\\
0.099 1.45\\ 0.09925 1.80\\ 0.0995 1.40\\ 0.09975 1.70\\ 0.100 1.25\\
}\topDiag

\pgfplotstableread[row sep=\\]{
t p\\
0 0\\ 0.0001 1.90\\ 0.0004 1.45\\ 0.0008 1.85\\ 0.0012 1.50\\ 0.0016 1.80\\ 0.0020 1.55\\ 0.0024 1.75\\ 0.0028 1.50\\ 0.0032 1.72\\
0.0036 1.55\\ 0.0040 1.78\\ 0.0044 1.52\\ 0.0048 1.70\\ 0.0052 1.58\\ 0.0056 1.75\\ 0.0060 1.50\\ 0.0064 1.72\\ 0.0068 1.55\\ 0.0072 1.70\\
0.0076 1.48\\ 0.0080 1.75\\ 0.0084 1.55\\ 0.0088 1.68\\ 0.0092 1.52\\ 0.0096 1.75\\ 0.0100 1.50\\ 0.0104 1.70\\ 0.0108 1.55\\ 0.0112 1.78\\
0.0116 1.45\\ 0.0120 1.72\\ 0.0124 1.52\\ 0.0128 1.80\\ 0.0132 1.50\\ 0.0136 1.70\\ 0.0140 1.40\\ 0.0144 1.75\\ 0.0148 1.45\\ 0.0152 1.85\\
0.0156 1.55\\ 0.0160 1.80\\ 0.0164 1.50\\ 0.0168 1.90\\ 0.0172 1.60\\ 0.0176 2.05\\ 0.0180 1.45\\ 0.0184 1.80\\ 0.0188 1.50\\ 0.0192 1.75\\
0.0196 1.40\\ 0.0200 1.70\\ 0.0204 1.55\\ 0.0208 1.80\\ 0.0212 1.50\\ 0.0216 1.70\\ 0.0220 1.55\\ 0.0224 1.75\\ 0.0228 1.48\\ 0.0232 1.72\\
0.0236 1.55\\ 0.0240 1.70\\ 0.0244 1.50\\ 0.0248 1.78\\ 0.0252 1.55\\ 0.0256 1.68\\ 0.0260 1.45\\ 0.0264 1.72\\ 0.0268 1.55\\ 0.0272 1.75\\
0.0276 1.50\\ 0.0280 1.70\\ 0.0284 1.55\\ 0.0288 1.68\\ 0.0292 1.50\\ 0.0296 1.72\\ 0.0300 1.45\\ 0.0304 1.75\\ 0.0308 1.55\\ 0.0312 1.70\\
0.0316 1.50\\ 0.0320 1.80\\ 0.0324 1.55\\ 0.0328 1.70\\ 0.0332 1.45\\ 0.0336 1.25\\ 0.0340 1.70\\ 0.0344 1.55\\ 0.0348 1.80\\ 0.0352 1.50\\
0.0356 1.25\\ 0.0360 1.75\\ 0.0364 1.55\\ 0.0368 1.70\\ 0.0372 1.50\\ 0.0376 1.78\\ 0.0380 1.55\\ 0.0384 1.70\\ 0.0388 1.45\\ 0.0392 1.75\\
0.0396 1.55\\ 0.0400 1.68\\ 0.0404 1.50\\ 0.0408 1.72\\ 0.0412 1.55\\ 0.0416 1.65\\ 0.0420 1.50\\ 0.0424 1.70\\ 0.0428 1.55\\ 0.0432 1.75\\
0.0436 1.50\\ 0.0440 1.68\\ 0.0444 1.55\\ 0.0448 1.72\\ 0.0452 1.48\\ 0.0456 1.70\\ 0.0460 1.55\\ 0.0464 1.75\\ 0.0468 1.50\\ 0.0472 1.68\\
0.0476 1.52\\ 0.0480 1.72\\ 0.0484 1.45\\ 0.0488 1.75\\ 0.0492 1.55\\ 0.0496 1.70\\ 0.0500 1.88\\ 0.0504 1.45\\ 0.0508 1.72\\ 0.0512 1.50\\
0.0516 1.78\\ 0.0520 1.45\\ 0.0524 1.70\\ 0.0528 1.95\\ 0.0532 1.50\\ 0.0536 1.75\\ 0.0540 1.45\\ 0.0544 1.70\\ 0.0548 1.55\\ 0.0552 1.75\\
0.0556 1.48\\ 0.0560 1.70\\ 0.0564 1.52\\ 0.0568 1.72\\ 0.0572 1.45\\ 0.0576 1.68\\ 0.0580 1.55\\ 0.0584 1.75\\ 0.0588 1.50\\ 0.0592 1.70\\
0.0596 1.45\\ 0.0600 1.72\\ 0.0604 1.55\\ 0.0608 1.68\\ 0.0612 1.48\\ 0.0616 1.75\\ 0.0620 1.52\\ 0.0624 1.70\\ 0.0628 1.55\\ 0.0632 1.78\\
0.0636 1.45\\ 0.0640 1.70\\ 0.0644 1.55\\ 0.0648 1.72\\ 0.0652 1.50\\ 0.0656 1.68\\ 0.0660 1.45\\ 0.0664 1.75\\ 0.0668 1.55\\ 0.0672 1.70\\
0.0676 1.50\\ 0.0680 1.72\\ 0.0684 1.55\\ 0.0688 1.65\\ 0.0692 1.48\\ 0.0696 1.70\\ 0.0700 1.52\\ 0.0704 1.75\\ 0.0708 1.45\\ 0.0712 1.68\\
0.0716 1.55\\ 0.0720 1.72\\ 0.0724 1.50\\ 0.0728 1.70\\ 0.0732 1.45\\ 0.0736 1.75\\ 0.0740 1.55\\ 0.0744 1.68\\ 0.0748 1.48\\ 0.0752 1.72\\
0.0756 1.55\\ 0.0760 1.70\\ 0.0764 1.50\\ 0.0768 1.75\\ 0.0772 1.45\\ 0.0776 1.68\\ 0.0780 1.55\\ 0.0784 1.72\\ 0.0788 1.50\\ 0.0792 1.70\\
0.0796 1.48\\ 0.0800 1.75\\ 0.0804 1.52\\ 0.0808 1.68\\ 0.0812 1.45\\ 0.0816 1.72\\ 0.0820 1.55\\ 0.0824 1.70\\ 0.0828 1.45\\ 0.0832 1.75\\
0.0836 1.50\\ 0.0840 1.68\\ 0.0844 1.55\\ 0.0848 1.72\\ 0.0852 1.45\\ 0.0856 1.70\\ 0.0860 1.52\\ 0.0864 1.75\\ 0.0868 1.48\\ 0.0872 1.68\\
0.0876 1.55\\ 0.0880 1.72\\ 0.0884 1.95\\ 0.0888 1.45\\ 0.0892 1.70\\ 0.0896 1.55\\ 0.0900 1.75\\ 0.0904 1.48\\ 0.0908 1.68\\ 0.0912 1.50\\
0.0916 1.72\\ 0.0920 1.45\\ 0.0924 1.70\\ 0.0928 1.55\\ 0.0932 1.75\\ 0.0936 1.48\\ 0.0940 1.68\\ 0.0944 1.55\\ 0.0948 1.72\\ 0.0952 1.45\\
0.0956 1.70\\ 0.0960 1.52\\ 0.0964 1.78\\ 0.0968 1.48\\ 0.0972 1.68\\ 0.0976 1.55\\ 0.0980 1.72\\ 0.0984 1.48\\ 0.0988 1.70\\ 0.0992 1.52\\
0.0996 1.65\\ 0.1000 1.50\\
}\topDir

\pgfplotsset{
  panel/.style={
    scale only axis, width=1089pt, height=226pt,
    xmin=-0.005, xmax=0.105,
    xtick={0,0.02,0.04,0.06,0.08,0.1},
    tick pos=left, tick align=outside,
    major tick length=5.4pt,
    tick style={black, line width=1.2pt},
    axis line style={black, line width=1.2pt},
    grid=major,
    major grid style={draw=gridc, line width=1.2pt},
    tick label style={font=\fontsize{17.2}{20}\selectfont},
  },
  diag/.style={mblue, line width=3pt, line join=round},
  direct/.style={morange, line width=3pt, dash pattern=on 11.5pt off 5pt},
  cg/.style={mgreen, line width=3pt, dash pattern=on 3.1pt off 5.1pt},
}

\begin{document}
\begin{tikzpicture}
\useasboundingbox (0pt,0pt) rectangle (1169pt,1052pt);
\node[font=\fontsize{22}{26}\selectfont] at (586pt,1032pt) {IMEX fully coupled (3D): PW comparison (flow solver: Direct)};

% Panel 1
\begin{axis}[panel, at={(78.5pt,624.7pt)}, anchor=south west,
  ymin=-2.09, ymax=5.99, ytick={-2,0,2,4}, yticklabels={−2,0,2,4}, xticklabels={},
  legend style={at={(0.466,1.55)}, anchor=center, draw=none, fill=none,
    legend columns=3, font=\fontsize{18}{22}\selectfont,
    /tikz/every even column/.append style={column sep=36pt},
    /tikz/every odd column/.append style={column sep=8pt}},
  legend cell align=left,
  legend image code/.code={\draw[#1] (0pt,0pt) -- (60pt,0pt);},
]
\addplot[diag] table[x=t,y=p] {\botDiag}; \addlegendentry{Diagonal}
\addplot[direct] table[x=t,y=p] {\botDir}; \addlegendentry{Direct}
\addplot[cg] table[x=t,y=p] {\botDir}; \addlegendentry{CG}
\end{axis}

% Panel 2
\begin{axis}[panel, at={(78.5pt,343.7pt)}, anchor=south west,
  ymin=-1.116, ymax=4.116, ytick={-1,0,1,2,3,4}, yticklabels={−1,0,1,2,3,4}, xticklabels={}]
\addplot[diag] table[x=t,y=p] {\midDiag};
\addplot[direct] table[x=t,y=p] {\midDir};
\addplot[cg] table[x=t,y=p] {\midDir};
\end{axis}

% Panel 3
\begin{axis}[panel, at={(78.5pt,61.3pt)}, anchor=south west,
  ymin=-0.125, ymax=2.532, ytick={0,0.5,1,1.5,2,2.5}, yticklabels={0.0,0.5,1.0,1.5,2.0,2.5},
  xticklabels={0.00,0.02,0.04,0.06,0.08,0.10}]
\addplot[diag] table[x=t,y=p] {\topDiag};
\addplot[direct] table[x=t,y=p] {\topDir};
\addplot[cg] table[x=t,y=p] {\topDir};
\end{axis}

% subplot titles
\node[anchor=base, font=\fontsize{18.3}{22}\selectfont] at (622.5pt,860pt) {Probe: bottom (z=0) (Node 36)};
\node[anchor=base, font=\fontsize{18.3}{22}\selectfont] at (622.5pt,579pt) {Probe: mid (z≈5.15) (Node 1276)};
\node[anchor=base, font=\fontsize{18.3}{22}\selectfont] at (622.5pt,296.6pt) {Probe: top (z=10) (Node 2460)};
% offset labels
\node[anchor=base west, inner sep=0pt, font=\fontsize{17.2}{20}\selectfont] at (78.5pt,855.7pt) {1e−6};
\node[anchor=base west, inner sep=0pt, font=\fontsize{17.2}{20}\selectfont] at (78.5pt,574.7pt) {1e−6};
\node[anchor=base west, inner sep=0pt, font=\fontsize{17.2}{20}\selectfont] at (78.5pt,292.3pt) {1e−6};
% y labels
\node[rotate=90, font=\fontsize{18.2}{22}\selectfont] at (21pt,737.7pt) {PW (kPa in this dataset)};
\node[rotate=90, font=\fontsize{18.2}{22}\selectfont] at (21pt,456.7pt) {PW (kPa in this dataset)};
\node[rotate=90, font=\fontsize{18.2}{22}\selectfont] at (21pt,174.3pt) {PW (kPa in this dataset)};
% x label
\node[font=\fontsize{18.2}{22}\selectfont] at (622.5pt,15.3pt) {Time (s)};
\end{tikzpicture}
\end{document}
